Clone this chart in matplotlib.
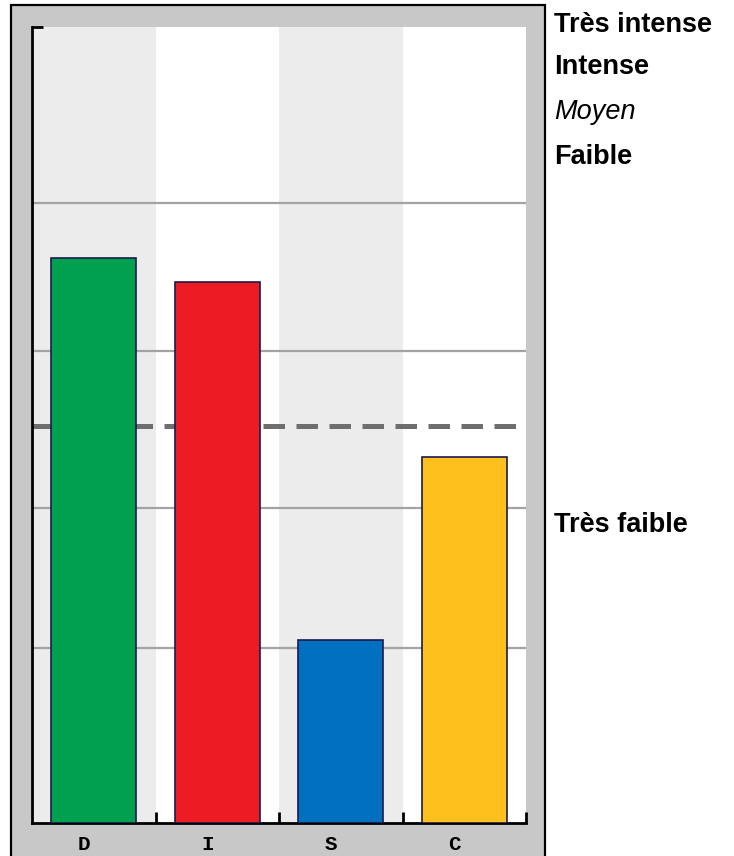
import matplotlib
matplotlib.use('Agg')
import matplotlib.pyplot as plt
from matplotlib.patches import Rectangle
import matplotlib.transforms as mtransforms
import numpy as np

# data
categories = ['D', 'I', 'S', 'C']
scores = [71.0, 68.0, 23.0, 46.0]
bar_colors = ['#00a14e', '#ed1c24', '#0070bf', '#fec01c']
grid_levels = [22, 39.6, 59.3, 77.9]
mid_level = 49.9
level_labels = ['Très intense', 'Intense', 'Moyen', 'Faible', 'Très faible']
level_label_y = [25, 67, 112, 157, 525]  # pixel rows in the original
level_styles = ['bold', 'bold', 'italic', 'bold', 'bold']

W, H = 734, 856
fig = plt.figure(figsize=(W / 100, H / 100), dpi=100)
fig.patch.set_facecolor('white')

# grey frame around the plot
frame = Rectangle((11 / W, -0.05), (545 - 11) / W, (H - 5) / H + 0.05,
                  transform=fig.transFigure, facecolor='#c8c8c8',
                  edgecolor='black', linewidth=1.6, zorder=-1)
fig.patches.append(frame)

left, right, bottom, top = 32, 526, 823, 27
ax = fig.add_axes([left / W, (H - bottom) / H, (right - left) / W, (bottom - top) / H])
ax.set_zorder(1)
ax.set_facecolor('white')
ax.set_xlim(-0.5, len(categories) - 0.5)
ax.set_ylim(0, 100)

# alternating background stripes
for i in range(0, len(categories), 2):
    ax.axvspan(i - 0.5, i + 0.5, color='#ececec', zorder=0, lw=0)

for g in grid_levels:
    ax.axhline(g, color='#a3a3a3', lw=1.6, zorder=1)
ax.axhline(mid_level, color='#6e6e6e', lw=3.6, ls=(0, (4.3, 2.3)), zorder=1)

x = np.arange(len(categories))
ax.bar(x, scores, width=0.69, color=bar_colors, edgecolor='#1b1a4f',
       linewidth=1.2, zorder=3)

for side in ['top', 'right']:
    ax.spines[side].set_visible(False)
for side in ['left', 'bottom']:
    ax.spines[side].set_linewidth(2)
    ax.spines[side].set_color('black')

ax.set_yticks([100])
ax.set_yticklabels([])
ax.tick_params(axis='y', direction='in', length=8, width=2)
ax.set_xticks(x + 0.5)
ax.set_xticklabels([])
ax.tick_params(axis='x', direction='in', length=8, width=2)

# category letters under the bars, kept inside the bottom edge
lab_tr = mtransforms.blended_transform_factory(ax.transData, fig.transFigure)
for i, c in enumerate(categories):
    ax.text(i - 0.08, 1 - 854 / H, c, transform=lab_tr,
            ha='center', va='bottom', fontsize=15, fontweight='bold',
            family='Liberation Mono')

for lab, yp, st in zip(level_labels, level_label_y, level_styles):
    if st == 'italic':
        fig.text(554 / W, 1 - yp / H, lab, ha='left', va='center',
                 fontsize=19.5, fontstyle='italic', family='Liberation Sans')
    else:
        fig.text(554 / W, 1 - yp / H, lab, ha='left', va='center',
                 fontsize=19.5, fontweight='bold', family='Liberation Sans')

fig.savefig('out.png', dpi=100)
